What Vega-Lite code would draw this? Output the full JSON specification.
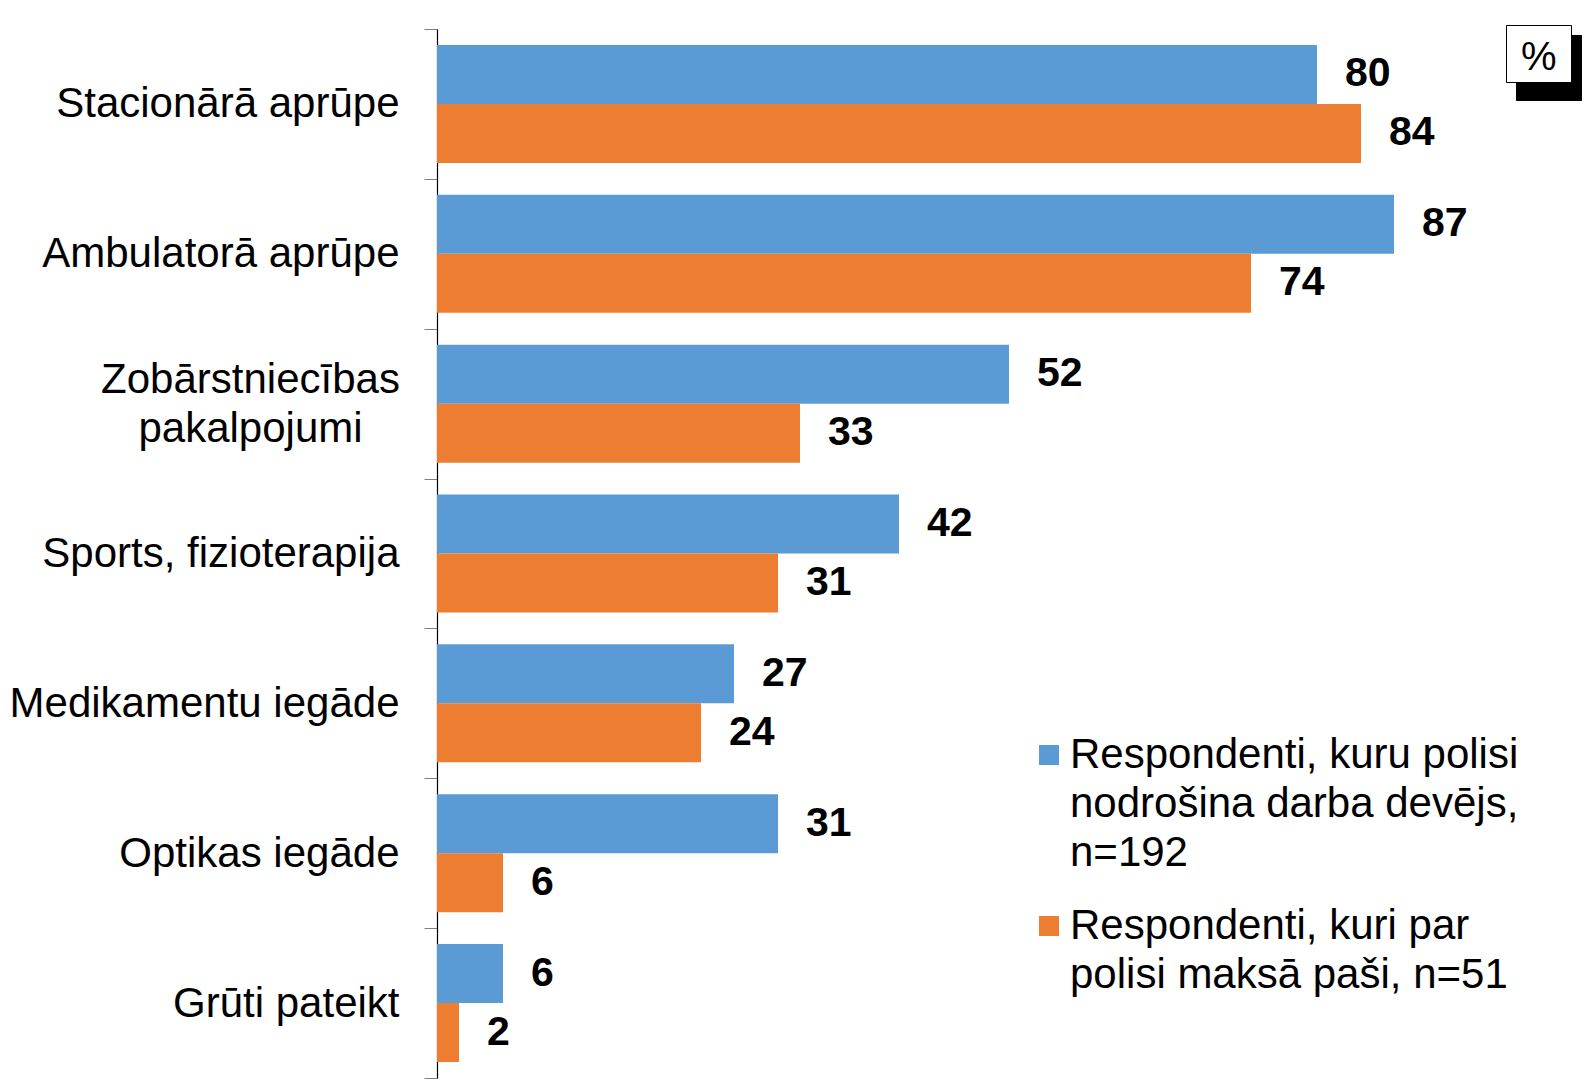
{
  "$schema": "https://vega.github.io/schema/vega-lite/v6.json",
  "width": 1100,
  "height": 1049,
  "autosize": {"type": "none"},
  "padding": {"left": 437, "top": 29, "right": 49, "bottom": 3},
  "background": "white",
  "config": {
    "view": {"stroke": null},
    "font": "Liberation Sans",
    "style": {"guide-label": {"lineHeight": 49}}
  },
  "data": {
    "values": [
      {"category": "Stacionārā aprūpe", "series": "Respondenti, kuru polisi nodrošina darba devējs, n=192", "value": 80},
      {"category": "Stacionārā aprūpe", "series": "Respondenti, kuri par polisi maksā paši, n=51", "value": 84},
      {"category": "Ambulatorā aprūpe", "series": "Respondenti, kuru polisi nodrošina darba devējs, n=192", "value": 87},
      {"category": "Ambulatorā aprūpe", "series": "Respondenti, kuri par polisi maksā paši, n=51", "value": 74},
      {"category": "Zobārstniecības pakalpojumi", "series": "Respondenti, kuru polisi nodrošina darba devējs, n=192", "value": 52},
      {"category": "Zobārstniecības pakalpojumi", "series": "Respondenti, kuri par polisi maksā paši, n=51", "value": 33},
      {"category": "Sports, fizioterapija", "series": "Respondenti, kuru polisi nodrošina darba devējs, n=192", "value": 42},
      {"category": "Sports, fizioterapija", "series": "Respondenti, kuri par polisi maksā paši, n=51", "value": 31},
      {"category": "Medikamentu iegāde", "series": "Respondenti, kuru polisi nodrošina darba devējs, n=192", "value": 27},
      {"category": "Medikamentu iegāde", "series": "Respondenti, kuri par polisi maksā paši, n=51", "value": 24},
      {"category": "Optikas iegāde", "series": "Respondenti, kuru polisi nodrošina darba devējs, n=192", "value": 31},
      {"category": "Optikas iegāde", "series": "Respondenti, kuri par polisi maksā paši, n=51", "value": 6},
      {"category": "Grūti pateikt", "series": "Respondenti, kuru polisi nodrošina darba devējs, n=192", "value": 6},
      {"category": "Grūti pateikt", "series": "Respondenti, kuri par polisi maksā paši, n=51", "value": 2}
    ]
  },
  "encoding": {
    "y": {
      "field": "category",
      "type": "nominal",
      "sort": ["Stacionārā aprūpe", "Ambulatorā aprūpe", "Zobārstniecības pakalpojumi", "Sports, fizioterapija", "Medikamentu iegāde", "Optikas iegāde", "Grūti pateikt"],
      "scale": {"paddingInner": 0, "paddingOuter": 0},
      "axis": {
        "title": null,
        "tickBand": "extent",
        "tickSize": 13,
        "tickColor": "#808080",
        "domainColor": "#000000",
        "domainWidth": 1.2,
        "labelFontSize": 42,
        "labelColor": "#000000",
        "labelLimit": 0,
        "labelLineHeight": 49,
        "labelExpr": "datum.value == 'Zobārstniecības pakalpojumi' ? ['Zobārstniecības', 'pakalpojumi'] : datum.value",
        "labelAlign": {"expr": "datum.value == 'Zobārstniecības pakalpojumi' ? 'center' : 'right'"},
        "labelPadding": {"expr": "datum.value == 'Zobārstniecības pakalpojumi' ? 174 : 25"},
        "labelOffset": {"expr": "datum.value == 'Zobārstniecības pakalpojumi' ? -24 : 0"}
      }
    },
    "yOffset": {
      "field": "series",
      "sort": ["Respondenti, kuru polisi nodrošina darba devējs, n=192", "Respondenti, kuri par polisi maksā paši, n=51"],
      "scale": {"paddingInner": 0, "paddingOuter": 0.27}
    },
    "x": {"field": "value", "type": "quantitative", "scale": {"domain": [0, 100]}, "axis": null}
  },
  "layer": [
    {
      "mark": {"type": "bar"},
      "encoding": {
        "color": {
          "field": "series",
          "type": "nominal",
          "scale": {
            "domain": ["Respondenti, kuru polisi nodrošina darba devējs, n=192", "Respondenti, kuri par polisi maksā paši, n=51"],
            "range": ["#5B9BD5", "#ED7D31"]
          },
          "legend": {
            "orient": "none",
            "legendX": 591,
            "legendY": 705,
            "title": null,
            "padding": 0,
            "symbolType": "square",
            "symbolSize": 400,
            "symbolStrokeWidth": 0,
            "labelFontSize": 42,
            "labelColor": "#000000",
            "labelOffset": 0,
            "labelLimit": 0,
            "rowPadding": 31,
            "labelExpr": "datum.label == 'Respondenti, kuru polisi nodrošina darba devējs, n=192' ? ['Respondenti, kuru polisi', 'nodrošina darba devējs,', 'n=192'] : ['Respondenti, kuri par', 'polisi maksā paši, n=51']"
          }
        }
      }
    },
    {
      "mark": {"type": "text", "align": "left", "baseline": "middle", "dx": 28, "fontSize": 41, "fontWeight": "bold", "color": "#000000"},
      "encoding": {"text": {"field": "value", "type": "quantitative"}}
    },
    {
      "data": {"values": [{"shadow": "%"}]},
      "mark": {"type": "point", "opacity": 0},
      "encoding": {
        "y": null, "yOffset": null, "x": null,
        "shape": {
          "field": "shadow",
          "type": "nominal",
          "legend": {
            "orient": "none", "legendX": 1079, "legendY": 6, "title": null,
            "padding": 4, "fillColor": "#000000", "strokeColor": "#000000",
            "symbolType": "M-1,0H1", "symbolSize": 3249, "symbolStrokeWidth": 0, "symbolOpacity": 0, "labelOffset": -46,
            "columnPadding": 0, "labelLimit": 100,
            "labelFontSize": 40, "labelColor": "#000000"
          }
        }
      }
    },
    {
      "data": {"values": [{"unit": "%"}]},
      "mark": {"type": "point", "opacity": 0, "filled": true},
      "encoding": {
        "y": null, "yOffset": null, "x": null,
        "fill": {
          "field": "unit",
          "type": "nominal",
          "scale": {"range": ["#FFFFFF"]},
          "legend": {
            "orient": "none", "legendX": 1069, "legendY": -4, "title": null,
            "padding": 4, "fillColor": "#FFFFFF", "strokeColor": "#000000",
            "symbolType": "M-1,0H1", "symbolSize": 3249, "symbolStrokeWidth": 0, "symbolOpacity": 0, "labelOffset": -46,
            "columnPadding": 0, "labelLimit": 100,
            "labelFontSize": 40, "labelColor": "#000000"
          }
        }
      }
    }
  ]
}
